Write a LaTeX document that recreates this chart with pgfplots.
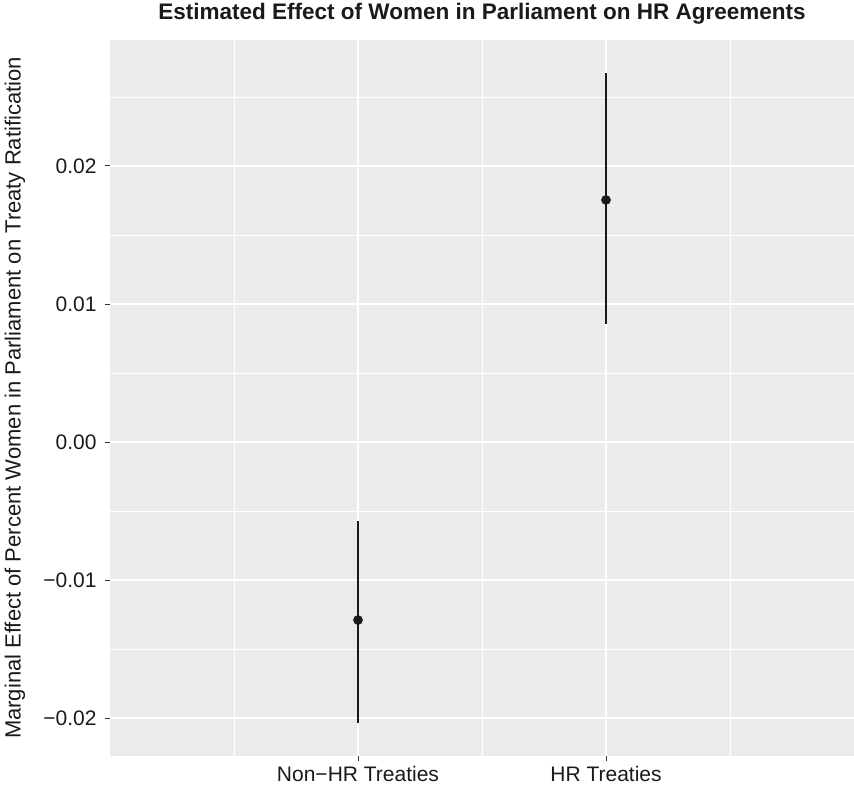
\documentclass[border=0pt]{standalone}
\usepackage{fontspec}
\setmainfont{Liberation Sans}
\usepackage{pgfplots}
\pgfplotsset{compat=1.18}
\definecolor{panelgray}{HTML}{EBEBEB}
\definecolor{ink}{HTML}{1A1A1A}

\begin{document}
\begin{tikzpicture}
\begin{axis}[
    name=ax,
    scale only axis,
    width=744pt, height=716pt,
    xmin=0, xmax=3,
    ymin=-0.02275, ymax=0.02913,
    scaled y ticks=false,
    axis background/.style={fill=panelgray},
    axis line style={draw=none},
    xtick={1,2},
    xticklabels={Non−HR Treaties, HR Treaties},
    minor xtick={0.5,1.5,2.5},
    ytick={-0.02,-0.01,0,0.01,0.02},
    yticklabels={−0.02,−0.01,0.00,0.01,0.02},
    minor ytick={-0.015,-0.005,0.005,0.015,0.025},
    grid=both,
    major grid style={white, line width=1.4pt},
    minor grid style={white, line width=0.7pt},
    tick pos=left,
    tick align=outside,
    major tick length=5pt,
    minor tick length=0pt,
    tick style={black!80, line width=1pt},
    tick label style={font=\fontsize{21}{24}\selectfont, text=ink},
    yticklabel style={xshift=-5pt},
    xticklabel style={yshift=-2pt},
    title={Estimated Effect of Women in Parliament on HR Agreements},
    title style={font=\bfseries\fontsize{22.5}{26}\selectfont, text=ink,
        at={(axis description cs:0.5,1)}, anchor=base, yshift=14pt},
    ylabel={Marginal Effect of Percent Women in Parliament on Treaty Ratification},
    ylabel style={font=\fontsize{22}{25}\selectfont, text=ink,
        at={(axis description cs:-0.1277,0.5)}, anchor=center},
]
\addplot[ink, only marks, mark=*, mark size=4.6pt,
    error bars/.cd, y dir=both, y explicit,
    error mark=none,
    error bar style={draw=ink, line width=2.3pt}]
  table[x=x, y=y, y error plus=ep, y error minus=em] {
    x   y        ep       em
    1   -0.0129  0.00718  0.00746
    2   0.01754  0.00920  0.00899
  };
\end{axis}
\pgfresetboundingbox
\path ([xshift=-110pt,yshift=-31pt]ax.south west) rectangle ([yshift=40pt]ax.north east);
\end{tikzpicture}
\end{document}
